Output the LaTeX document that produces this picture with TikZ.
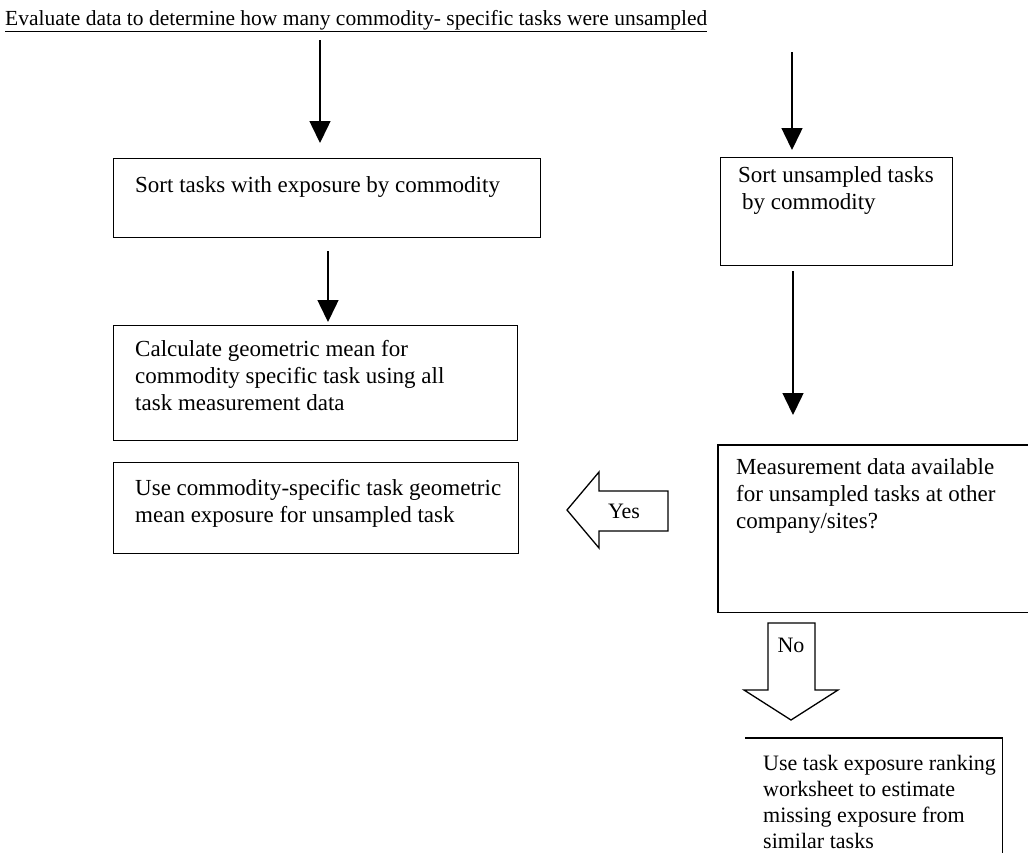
\documentclass[tikz,border=0pt]{standalone}
\usepackage{fontspec}
\setmainfont{Liberation Serif}
\usetikzlibrary{arrows.meta}
\begin{document}
\begin{tikzpicture}[x=1pt,y=-1pt,
  box/.style={draw, line width=1.3pt, inner sep=0pt, anchor=north west},
  openbox/.style={inner sep=0pt, anchor=north west},
  edge/.style={line width=1.3pt},
  txt/.style={anchor=north west, inner sep=0pt, align=left, font=\fontsize{23}{27}\selectfont},
  conn/.style={line width=1.5pt, -{Triangle[width=21pt,length=22pt]}},
  blk/.style={draw, line width=1.3pt, fill=white, line join=miter},
  lbl/.style={inner sep=0pt, font=\fontsize{22}{27}\selectfont}]
\useasboundingbox (0,0) rectangle (1028,852);

% title
\node[anchor=base west, inner sep=0pt, font=\fontsize{21.5}{27}\selectfont] (title) at (5,25)
  {\underline{Evaluate data to determine how many commodity- specific tasks were unsampled}};

% boxes
\node[box, minimum width=427pt, minimum height=79pt] (b1) at (113,158) {};
\node[box, minimum width=232pt, minimum height=108pt] (b2) at (720,157) {};
\node[box, minimum width=404pt, minimum height=115pt] (b3) at (113,325) {};
\node[openbox, minimum width=340pt, minimum height=167pt] (b4) at (718,445) {};
\node[box, minimum width=405pt, minimum height=91pt] (b5) at (113,462) {};
\node[openbox, minimum width=257pt, minimum height=140pt] (b6) at (745,738) {};
\draw[edge] (b4.north east) -- (b4.north west) -- (b4.south west) -- (b4.south east);
\draw[edge] (b6.north west) -- (b6.north east) -- (b6.south east);

% texts
\node[txt, xshift=22pt, yshift=-18pt] (t1) at (b1.north west) {Sort tasks with exposure by commodity};
\node[txt, xshift=18pt, yshift=-9pt] (t2) at (b2.north west) {Sort unsampled tasks\\\hspace{4pt}by commodity};
\node[txt, xshift=22pt, yshift=-15pt] (t3) at (b3.north west) {Calculate geometric mean for\\commodity specific task using all\\task measurement data};
\node[txt, xshift=18pt, yshift=-13pt] (t4) at (b4.north west) {Measurement data available\\for unsampled tasks at other\\company/sites?};
\node[txt, xshift=22pt, yshift=-17pt] (t5) at (b5.north west) {Use commodity-specific task geometric\\mean exposure for unsampled task};
\node[txt, xshift=18pt, yshift=-17pt, font=\fontsize{22}{26}\selectfont] (t6) at (b6.north west) {Use task exposure ranking\\worksheet to estimate\\missing exposure from\\similar tasks};

% thin connectors
\coordinate (s1) at (320,40);
\coordinate (s2) at (792,52);
\coordinate (a3) at (328,0);
\coordinate (a4) at (793,0);
\draw[conn, shorten >=15pt] (s1) -- (s1 |- b1.north);
\draw[conn, shorten >=7pt] (s2) -- (s2 |- b2.north);
\draw[conn, shorten <=13pt, shorten >=3pt] (a3 |- b1.south) -- (a3 |- b3.north);
\draw[conn, shorten <=5pt, shorten >=30pt] (a4 |- b2.south) -- (a4 |- b4.north);

% Yes block arrow
\draw[blk] (668,491) -- (599,491) -- (599,472) -- (567,510) -- (599,548) -- (599,531) -- (668,531) -- cycle;
\node[lbl] (yes) at (624,511) {Yes};

% No block arrow
\draw[blk] (768,623) -- (815,623) -- (815,690) -- (838,690) -- (791,720) -- (744,690) -- (768,690) -- cycle;
\node[lbl] (no) at (791,645) {No};
\end{tikzpicture}
\end{document}
